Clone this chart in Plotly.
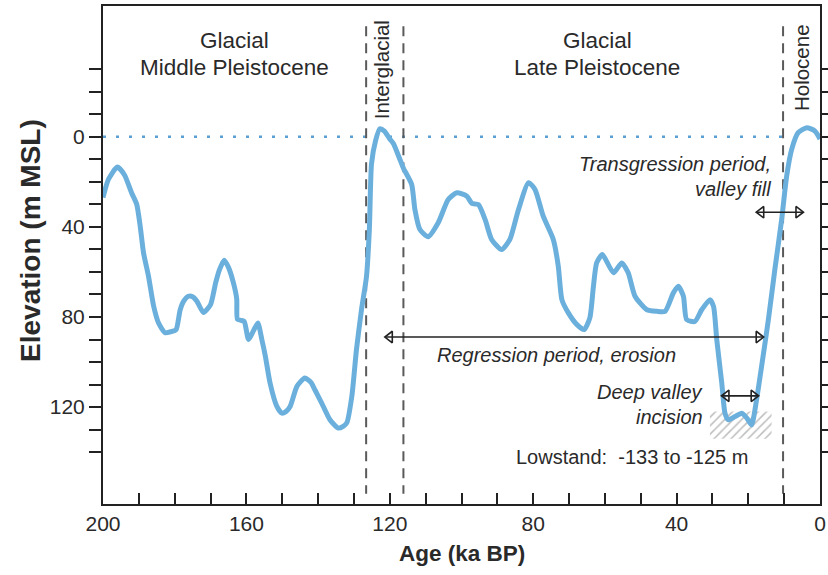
import plotly.graph_objects as go

# ---------------- data ----------------
age_ka = [200, 198.5, 196, 194, 192, 190.6, 189.6, 188.7, 187.3, 185.9, 184.5, 182.7, 181, 179.6,
          178.5, 177.5, 176.2, 175, 173.8, 172, 170, 168.6, 167.5, 166.2, 165, 163.6, 162.7, 162.5,
          161.5, 160.6, 159.4, 158, 156.8, 155.7, 154.7, 153.4, 151.5, 150.1, 149, 147.8, 145.9,
          143.7, 142, 140.9, 139, 136.7, 134.4, 133, 132, 130.6, 129.3, 127.9, 126.5, 125.7, 125.1,
          124, 122.8, 121.5, 120, 119, 117.2, 116.2, 113.9, 113, 111.6, 109.3, 106.5, 103.7, 101.3,
          98.5, 97.1, 95.3, 93.4, 91.6, 88.8, 86.5, 84.1, 81.3, 79.5, 77.2, 74.4, 73, 72, 70.2, 67.8,
          65.8, 64.2, 63.2, 62.3, 60.7, 57.6, 55.3, 53.5, 51.6, 48.3, 45.5, 43.2, 40.9, 39.5, 38.1,
          37.2, 34.9, 33, 30.7, 29.7, 28.8, 27.4, 26.5, 25.6, 23.7, 21.8, 20.4, 19.1, 17.7, 16.3,
          14.4, 12.6, 10.7, 9.3, 7.9, 6.1, 3.7, 1.4, 0]
depth_m = [27, 19, 13.5, 17, 25, 30, 40, 51.5, 62, 75, 82.7, 87, 86.5, 85.6,
           77, 73, 70.8, 71, 73, 78, 74.5, 65, 59, 54.8, 58, 65, 72, 81,
           81.5, 82, 90, 86, 82.7, 90, 97.5, 109.3, 119.7, 122.7, 122, 119.7, 110.8,
           107.1, 109, 112.3, 118.2, 125.6, 129.3, 128.5, 127, 115.3, 94.5, 76.8, 62, 41, 12,
           2, -3.5, -2.5, 1, 3, 10, 14, 21.2, 32.3, 41.2, 44.4, 38.2, 27.9, 24.9,
           26.4, 29.6, 30.1, 36.8, 45.6, 50.1, 45.6, 32.3, 20.4, 23.4, 35.3, 45.6, 57.5, 72.3, 78.2, 83.4,
           85.6, 80.4, 66.4, 56, 52.3, 60.4, 56, 60.4, 70.8, 76.8, 77.5, 77.5, 69.3, 66.4, 70.8,
           81.2, 82, 76.8, 72.3, 75.3, 90, 109.3, 122.7, 125.6, 124.2, 122.7, 124.9, 127.9, 116.8, 102,
           81.2, 59, 36.8, 17.5, 5.6, -1.8, -4, -2.5, 1]

boundary_ages = [126.6, 116.2, 10.3]          # dashed period boundaries (ka)
boundary_depths = [-49, 158.5]                 # extent of the boundary lines
sea_level_ages = [200, 8.5]                    # present sea level reference
sea_level_depth = [0, 0]

lowstand_ages = [30.7, 13.5]
lowstand_depths = [122, 134]

regression_ages = [121.3, 15.8]
regression_depth = 88.9
transgression_ages = [17.7, 4.7]
transgression_depth = 33.5
incision_ages = [27.4, 17.2]
incision_depth = 115

x_tickvals = list(range(0, 201, 10))
x_ticktext = [str(v) if v % 40 == 0 else "" for v in x_tickvals]
y_tickvals = list(range(-30, 141, 10))
y_ticktext = [str(v) if v % 40 == 0 and v >= 0 else "" for v in y_tickvals]

# ---------------- styles ----------------
CURVE = "#6bb0dc"
TXT = "#2a2a2a"
FONT = "Liberation Sans, Arial, Helvetica, sans-serif"

fig = go.Figure()

# hatched lowstand box
fig.add_trace(go.Scatter(
    x=[lowstand_ages[0], lowstand_ages[1], lowstand_ages[1], lowstand_ages[0], lowstand_ages[0]],
    y=[lowstand_depths[0], lowstand_depths[0], lowstand_depths[1], lowstand_depths[1], lowstand_depths[0]],
    mode="lines", fill="toself", line=dict(width=0, color="rgba(0,0,0,0)"),
    fillcolor="white",
    fillpattern=dict(shape="/", fgcolor="#bdbdbd", bgcolor="white", size=6, solidity=0.25),
    hoverinfo="skip", showlegend=False))

# sea level dotted line
fig.add_trace(go.Scatter(x=sea_level_ages, y=sea_level_depth, mode="lines",
                         line=dict(color="#5b9fd3", width=2.5, dash="3px,10px"),
                         hoverinfo="skip", showlegend=False))

# dashed boundaries
for a in boundary_ages:
    fig.add_trace(go.Scatter(x=[a, a], y=boundary_depths, mode="lines",
                             line=dict(color="#5a5a5a", width=2, dash="10px,7px"),
                             hoverinfo="skip", showlegend=False))

# sea level curve
fig.add_trace(go.Scatter(x=age_ka, y=depth_m, mode="lines",
                         line=dict(color=CURVE, width=5, shape="spline", smoothing=0.6),
                         hoverinfo="skip", showlegend=False))

# double arrows
def double_arrow(ages, depth, off):
    lo, hi = max(ages), min(ages)
    fig.add_trace(go.Scatter(x=[lo, hi], y=[depth, depth], mode="lines",
                             line=dict(color="#222", width=1.6),
                             hoverinfo="skip", showlegend=False))
    fig.add_trace(go.Scatter(x=[lo - off, hi + off], y=[depth, depth], mode="markers",
                             marker=dict(symbol=["triangle-left-open", "triangle-right-open"],
                                         size=10, color="#222", line=dict(width=1.6, color="#222")),
                             hoverinfo="skip", showlegend=False))

double_arrow(regression_ages, regression_depth, 1.3)
double_arrow(transgression_ages, transgression_depth, 1.3)
double_arrow(incision_ages, incision_depth, 1.3)

ann = []
def txt(x, y, s, size=21, italic=False, xanchor="center", angle=0):
    ann.append(dict(x=x, y=y, xref="x", yref="y", text=s, showarrow=False,
                    xanchor=xanchor, yanchor="middle", textangle=angle,
                    font=dict(family=FONT, size=size, color=TXT,
                              style="italic" if italic else "normal")))

txt(163.2, -42.9, "Glacial", size=22.5)
txt(163.2, -30.6, "Middle Pleistocene", size=22.5)
txt(62.2, -42.9, "Glacial", size=22.5)
txt(62.2, -30.6, "Late Pleistocene", size=22.5)
txt(122.45, -29.5, "Interglacial", size=20.5, angle=-90)
txt(5.0, -30.5, "Holocene", size=20.5, angle=-90)
txt(13.1, 12.3, "Transgression period,", size=20, italic=True, xanchor="right")
txt(13.1, 23.4, "valley fill", size=20, italic=True, xanchor="right")
txt(73.5, 96.8, "Regression period, erosion", size=20, italic=True)
txt(32.1, 113.2, "Deep valley", size=20, italic=True, xanchor="right")
txt(32.1, 124.3, "incision", size=20, italic=True, xanchor="right")
txt(52.5, 142.1, "Lowstand:\u00a0 -133 to -125 m", size=20)

ann.append(dict(x=-0.102, y=0.53, xref="paper", yref="paper", text="<b>Elevation (m MSL)</b>",
                showarrow=False, textangle=-90, xanchor="center", yanchor="middle",
                font=dict(family=FONT, size=28, color=TXT)))
ann.append(dict(x=0.5, y=-0.099, xref="paper", yref="paper", text="<b>Age (ka BP)</b>",
                showarrow=False, xanchor="center", yanchor="middle",
                font=dict(family=FONT, size=22.5, color=TXT)))

fig.update_layout(
    template="none",
    width=828, height=575,
    margin=dict(l=103, r=8, t=6, b=71, autoexpand=False),
    paper_bgcolor="white", plot_bgcolor="white",
    annotations=ann,
    xaxis=dict(range=[200, 0], tickmode="array", tickvals=x_tickvals, ticktext=x_ticktext,
               ticks="inside", ticklen=11, tickwidth=1.5, tickcolor="#222",
               showline=True, linewidth=2, linecolor="#222", mirror=True,
               showgrid=False, zeroline=False, automargin=False,
               tickfont=dict(family=FONT, size=21, color=TXT)),
    yaxis=dict(range=[163, -58], tickmode="array", tickvals=y_tickvals, ticktext=y_ticktext,
               ticks="outside", ticklen=12, tickwidth=1.5, tickcolor="#222",
               showline=True, linewidth=2, linecolor="#222", mirror="ticks",
               showgrid=False, zeroline=False, automargin=False,
               tickfont=dict(family=FONT, size=21, color=TXT)),
)

fig.write_html("out.html")
